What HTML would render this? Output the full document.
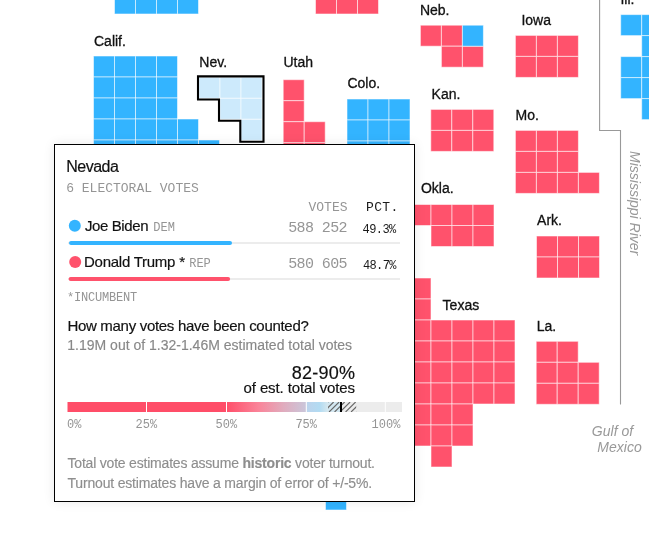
<!DOCTYPE html>
<html><head><meta charset="utf-8">
<style>
*{margin:0;padding:0;box-sizing:border-box}
html,body{width:649px;height:536px;overflow:hidden;background:#fff}
body{position:relative;font-family:"Liberation Sans",sans-serif;color:#1a1a1a}
.map{position:absolute;left:0;top:0;will-change:transform}
.lbl text{font-family:"Liberation Sans",sans-serif;font-size:14px;fill:#111;stroke:#111;stroke-width:0.3px}
.geo text{font-family:"Liberation Sans",sans-serif;font-style:italic;font-size:14px;fill:#999}
.tip{position:absolute;left:54px;top:144px;width:361px;height:358px;background:#fff;border:1px solid #000;box-shadow:0 0 11px rgba(0,0,0,0.09)}
.t{position:absolute;white-space:nowrap;line-height:1}
.mono{font-family:"Liberation Mono",monospace}
.gray{color:#8c8c8c}
.dot{position:absolute;width:12px;height:12px;border-radius:50%}
.track{position:absolute;left:14px;width:332px;height:2px;background:#ececec}
.s14{font-family:"Liberation Sans",sans-serif;font-size:14px;fill:#111;stroke:#111;stroke-width:0.18px}
.s15{font-family:"Liberation Sans",sans-serif;font-size:15px;fill:#111;stroke:#111;stroke-width:0.18px}
.s16{font-family:"Liberation Sans",sans-serif;font-size:16px;fill:#111;stroke:#111;stroke-width:0.18px}
.s18{font-family:"Liberation Sans",sans-serif;font-size:18px;fill:#111;stroke:#111;stroke-width:0.18px}
.m11{font-family:"Liberation Mono",monospace;font-size:11px;fill:#1a1a1a}
.m12{font-family:"Liberation Mono",monospace;font-size:12px;fill:#1a1a1a}
.m13{font-family:"Liberation Mono",monospace;font-size:13px;fill:#1a1a1a}
.m15{font-family:"Liberation Mono",monospace;font-size:15px;fill:#1a1a1a}
text.g{fill:#959595;stroke:none}
text.gs{fill:#888;stroke:#888;stroke-width:0.15px}
text.g2{fill:#8e8e8e;stroke:#8e8e8e;stroke-width:0.15px}
</style></head><body>
<svg class="map" width="649" height="536" viewBox="0 0 649 536">
<g stroke="rgba(255,255,255,0.55)" stroke-width="1"><rect x="114.5" y="-7.0" width="21" height="21" fill="#33b4ff"/><rect x="135.5" y="-7.0" width="21" height="21" fill="#33b4ff"/><rect x="156.5" y="-7.0" width="21" height="21" fill="#33b4ff"/><rect x="177.5" y="-7.0" width="21" height="21" fill="#33b4ff"/><rect x="315.5" y="-7.0" width="21" height="21" fill="#ff526c"/><rect x="336.5" y="-7.0" width="21" height="21" fill="#ff526c"/><rect x="357.5" y="-7.0" width="21" height="21" fill="#ff526c"/><rect x="93.5" y="56.0" width="21" height="21" fill="#33b4ff"/><rect x="114.5" y="56.0" width="21" height="21" fill="#33b4ff"/><rect x="135.5" y="56.0" width="21" height="21" fill="#33b4ff"/><rect x="156.5" y="56.0" width="21" height="21" fill="#33b4ff"/><rect x="93.5" y="77.0" width="21" height="21" fill="#33b4ff"/><rect x="114.5" y="77.0" width="21" height="21" fill="#33b4ff"/><rect x="135.5" y="77.0" width="21" height="21" fill="#33b4ff"/><rect x="156.5" y="77.0" width="21" height="21" fill="#33b4ff"/><rect x="93.5" y="98.0" width="21" height="21" fill="#33b4ff"/><rect x="114.5" y="98.0" width="21" height="21" fill="#33b4ff"/><rect x="135.5" y="98.0" width="21" height="21" fill="#33b4ff"/><rect x="156.5" y="98.0" width="21" height="21" fill="#33b4ff"/><rect x="93.5" y="119.0" width="21" height="21" fill="#33b4ff"/><rect x="114.5" y="119.0" width="21" height="21" fill="#33b4ff"/><rect x="135.5" y="119.0" width="21" height="21" fill="#33b4ff"/><rect x="156.5" y="119.0" width="21" height="21" fill="#33b4ff"/><rect x="177.5" y="119.0" width="21" height="21" fill="#33b4ff"/><rect x="93.5" y="140.0" width="21" height="21" fill="#33b4ff"/><rect x="114.5" y="140.0" width="21" height="21" fill="#33b4ff"/><rect x="135.5" y="140.0" width="21" height="21" fill="#33b4ff"/><rect x="156.5" y="140.0" width="21" height="21" fill="#33b4ff"/><rect x="177.5" y="140.0" width="21" height="21" fill="#33b4ff"/><rect x="198.5" y="140.0" width="21" height="21" fill="#33b4ff"/><rect x="93.5" y="161.0" width="21" height="21" fill="#33b4ff"/><rect x="114.5" y="161.0" width="21" height="21" fill="#33b4ff"/><rect x="135.5" y="161.0" width="21" height="21" fill="#33b4ff"/><rect x="156.5" y="161.0" width="21" height="21" fill="#33b4ff"/><rect x="177.5" y="161.0" width="21" height="21" fill="#33b4ff"/><rect x="198.5" y="161.0" width="21" height="21" fill="#33b4ff"/><rect x="199.0" y="77.3" width="21" height="21" fill="#cdeafc"/><rect x="220.0" y="77.3" width="21" height="21" fill="#cdeafc"/><rect x="241.0" y="77.3" width="21" height="21" fill="#cdeafc"/><rect x="220.0" y="98.3" width="21" height="21" fill="#cdeafc"/><rect x="241.0" y="98.3" width="21" height="21" fill="#cdeafc"/><rect x="241.0" y="119.3" width="21" height="21" fill="#cdeafc"/><rect x="283.2" y="79.7" width="21" height="21" fill="#ff526c"/><rect x="283.2" y="100.7" width="21" height="21" fill="#ff526c"/><rect x="283.2" y="121.7" width="21" height="21" fill="#ff526c"/><rect x="304.2" y="121.7" width="21" height="21" fill="#ff526c"/><rect x="283.2" y="142.7" width="21" height="21" fill="#ff526c"/><rect x="304.2" y="142.7" width="21" height="21" fill="#ff526c"/><rect x="347.0" y="99.0" width="21" height="21" fill="#33b4ff"/><rect x="368.0" y="99.0" width="21" height="21" fill="#33b4ff"/><rect x="389.0" y="99.0" width="21" height="21" fill="#33b4ff"/><rect x="347.0" y="120.0" width="21" height="21" fill="#33b4ff"/><rect x="368.0" y="120.0" width="21" height="21" fill="#33b4ff"/><rect x="389.0" y="120.0" width="21" height="21" fill="#33b4ff"/><rect x="347.0" y="141.0" width="21" height="21" fill="#33b4ff"/><rect x="368.0" y="141.0" width="21" height="21" fill="#33b4ff"/><rect x="389.0" y="141.0" width="21" height="21" fill="#33b4ff"/><rect x="420.4" y="25.2" width="21" height="21" fill="#ff526c"/><rect x="441.4" y="25.2" width="21" height="21" fill="#ff526c"/><rect x="441.4" y="46.2" width="21" height="21" fill="#ff526c"/><rect x="462.4" y="46.2" width="21" height="21" fill="#ff526c"/><rect x="462.4" y="25.2" width="21" height="21" fill="#33b4ff"/><rect x="515.4" y="35.4" width="21" height="21" fill="#ff526c"/><rect x="536.4" y="35.4" width="21" height="21" fill="#ff526c"/><rect x="557.4" y="35.4" width="21" height="21" fill="#ff526c"/><rect x="515.4" y="56.4" width="21" height="21" fill="#ff526c"/><rect x="536.4" y="56.4" width="21" height="21" fill="#ff526c"/><rect x="557.4" y="56.4" width="21" height="21" fill="#ff526c"/><rect x="620.7" y="14.6" width="21" height="21" fill="#33b4ff"/><rect x="641.7" y="14.6" width="21" height="21" fill="#33b4ff"/><rect x="641.7" y="35.6" width="21" height="21" fill="#33b4ff"/><rect x="620.7" y="56.6" width="21" height="21" fill="#33b4ff"/><rect x="641.7" y="56.6" width="21" height="21" fill="#33b4ff"/><rect x="620.7" y="77.6" width="21" height="21" fill="#33b4ff"/><rect x="641.7" y="77.6" width="21" height="21" fill="#33b4ff"/><rect x="641.7" y="98.6" width="21" height="21" fill="#33b4ff"/><rect x="430.8" y="109.4" width="21" height="21" fill="#ff526c"/><rect x="451.8" y="109.4" width="21" height="21" fill="#ff526c"/><rect x="472.8" y="109.4" width="21" height="21" fill="#ff526c"/><rect x="430.8" y="130.4" width="21" height="21" fill="#ff526c"/><rect x="451.8" y="130.4" width="21" height="21" fill="#ff526c"/><rect x="472.8" y="130.4" width="21" height="21" fill="#ff526c"/><rect x="515.4" y="130.4" width="21" height="21" fill="#ff526c"/><rect x="536.4" y="130.4" width="21" height="21" fill="#ff526c"/><rect x="557.4" y="130.4" width="21" height="21" fill="#ff526c"/><rect x="515.4" y="151.4" width="21" height="21" fill="#ff526c"/><rect x="536.4" y="151.4" width="21" height="21" fill="#ff526c"/><rect x="557.4" y="151.4" width="21" height="21" fill="#ff526c"/><rect x="515.4" y="172.4" width="21" height="21" fill="#ff526c"/><rect x="536.4" y="172.4" width="21" height="21" fill="#ff526c"/><rect x="557.4" y="172.4" width="21" height="21" fill="#ff526c"/><rect x="578.4" y="172.4" width="21" height="21" fill="#ff526c"/><rect x="389.0" y="204.5" width="21" height="21" fill="#ff526c"/><rect x="410.0" y="204.5" width="21" height="21" fill="#ff526c"/><rect x="431.0" y="204.5" width="21" height="21" fill="#ff526c"/><rect x="452.0" y="204.5" width="21" height="21" fill="#ff526c"/><rect x="473.0" y="204.5" width="21" height="21" fill="#ff526c"/><rect x="431.0" y="225.5" width="21" height="21" fill="#ff526c"/><rect x="452.0" y="225.5" width="21" height="21" fill="#ff526c"/><rect x="473.0" y="225.5" width="21" height="21" fill="#ff526c"/><rect x="536.5" y="236.0" width="21" height="21" fill="#ff526c"/><rect x="557.5" y="236.0" width="21" height="21" fill="#ff526c"/><rect x="578.5" y="236.0" width="21" height="21" fill="#ff526c"/><rect x="536.5" y="257.0" width="21" height="21" fill="#ff526c"/><rect x="557.5" y="257.0" width="21" height="21" fill="#ff526c"/><rect x="578.5" y="257.0" width="21" height="21" fill="#ff526c"/><rect x="410.0" y="278.0" width="21" height="21" fill="#ff526c"/><rect x="410.0" y="299.0" width="21" height="21" fill="#ff526c"/><rect x="410.0" y="320.0" width="21" height="21" fill="#ff526c"/><rect x="431.0" y="320.0" width="21" height="21" fill="#ff526c"/><rect x="452.0" y="320.0" width="21" height="21" fill="#ff526c"/><rect x="473.0" y="320.0" width="21" height="21" fill="#ff526c"/><rect x="494.0" y="320.0" width="21" height="21" fill="#ff526c"/><rect x="410.0" y="341.0" width="21" height="21" fill="#ff526c"/><rect x="431.0" y="341.0" width="21" height="21" fill="#ff526c"/><rect x="452.0" y="341.0" width="21" height="21" fill="#ff526c"/><rect x="473.0" y="341.0" width="21" height="21" fill="#ff526c"/><rect x="494.0" y="341.0" width="21" height="21" fill="#ff526c"/><rect x="410.0" y="362.0" width="21" height="21" fill="#ff526c"/><rect x="431.0" y="362.0" width="21" height="21" fill="#ff526c"/><rect x="452.0" y="362.0" width="21" height="21" fill="#ff526c"/><rect x="473.0" y="362.0" width="21" height="21" fill="#ff526c"/><rect x="494.0" y="362.0" width="21" height="21" fill="#ff526c"/><rect x="410.0" y="383.0" width="21" height="21" fill="#ff526c"/><rect x="431.0" y="383.0" width="21" height="21" fill="#ff526c"/><rect x="452.0" y="383.0" width="21" height="21" fill="#ff526c"/><rect x="473.0" y="383.0" width="21" height="21" fill="#ff526c"/><rect x="494.0" y="383.0" width="21" height="21" fill="#ff526c"/><rect x="410.0" y="404.0" width="21" height="21" fill="#ff526c"/><rect x="431.0" y="404.0" width="21" height="21" fill="#ff526c"/><rect x="452.0" y="404.0" width="21" height="21" fill="#ff526c"/><rect x="410.0" y="425.0" width="21" height="21" fill="#ff526c"/><rect x="431.0" y="425.0" width="21" height="21" fill="#ff526c"/><rect x="452.0" y="425.0" width="21" height="21" fill="#ff526c"/><rect x="431.0" y="446.0" width="21" height="21" fill="#ff526c"/><rect x="536.2" y="341.3" width="21" height="21" fill="#ff526c"/><rect x="557.2" y="341.3" width="21" height="21" fill="#ff526c"/><rect x="536.2" y="362.3" width="21" height="21" fill="#ff526c"/><rect x="557.2" y="362.3" width="21" height="21" fill="#ff526c"/><rect x="578.2" y="362.3" width="21" height="21" fill="#ff526c"/><rect x="536.2" y="383.3" width="21" height="21" fill="#ff526c"/><rect x="557.2" y="383.3" width="21" height="21" fill="#ff526c"/><rect x="578.2" y="383.3" width="21" height="21" fill="#ff526c"/><rect x="325.5" y="489.0" width="21" height="21" fill="#33b4ff"/></g>
<path d="M198,76.4 H263.5 V141.7 H240.3 V120.8 H219 V99.5 H198 Z" fill="none" stroke="#000" stroke-width="2.1" stroke-linejoin="miter"/>
<path d="M599.6,0 V130.5 H620.5 V404.6" fill="none" stroke="#999" stroke-width="1.1"/>
<g class="lbl"><text x="94" y="45.9">Calif.</text><text x="199.3" y="67.2">Nev.</text><text x="283.4" y="67.2">Utah</text><text x="347.4" y="87.8">Colo.</text><text x="419.9" y="15">Neb.</text><text x="521.4" y="24.8">Iowa</text><text x="620.4" y="3.7">Ill.</text><text x="431.6" y="99">Kan.</text><text x="515.6" y="120">Mo.</text><text x="420.9" y="192.8">Okla.</text><text x="537.1" y="224.8">Ark.</text><text x="442.6" y="310.3">Texas</text><text x="536.8" y="331">La.</text></g>
<g class="geo">
<text x="633.1" y="435.7" text-anchor="end">Gulf of</text>
<text x="641.7" y="451.7" text-anchor="end">Mexico</text>
<text transform="translate(630,151) rotate(90)">Mississippi River</text>
</g>
</svg>
<div class="tip"></div>
<svg class="map" width="649" height="536" viewBox="0 0 649 536"><text x="66.2" y="171.9" class="s16" text-anchor="start" letter-spacing="-0.5">Nevada</text><text x="66.2" y="191.8" class="m13 g" text-anchor="start" >6 ELECTORAL VOTES</text><text x="347.5" y="211" class="m13 g" text-anchor="end" >VOTES</text><text x="398.5" y="211" class="m13" text-anchor="end" letter-spacing="0.3">PCT.</text><rect x="68" y="242" width="332" height="2" fill="#ececec"/><rect x="69" y="241" width="163" height="4" rx="2" fill="#33b4ff"/><circle cx="74.8" cy="225.8" r="6" fill="#33b4ff"/><text x="85" y="231" class="s15" text-anchor="start" letter-spacing="-0.4">Joe Biden</text><text x="153.3" y="231" class="m12 g" text-anchor="start" >DEM</text><text x="347" y="232.2" class="m15 g" text-anchor="end" letter-spacing="-0.6">588 252</text><text x="395.6" y="233" class="m12" text-anchor="end" letter-spacing="-0.6">49.3%</text><rect x="68" y="278" width="332" height="2" fill="#ececec"/><rect x="68.6" y="277" width="161.5" height="4" rx="2" fill="#ff526c"/><circle cx="75.2" cy="262" r="6" fill="#ff526c"/><text x="84.0" y="267.2" class="s15" text-anchor="start" letter-spacing="-0.25">Donald Trump *</text><text x="189.2" y="267.2" class="m12 g" text-anchor="start" >REP</text><text x="347" y="268.4" class="m15 g" text-anchor="end" letter-spacing="-0.6">580 605</text><text x="395.9" y="268.8" class="m12" text-anchor="end" letter-spacing="-0.6">48.7%</text><text x="67" y="301.2" class="m12 g" text-anchor="start" letter-spacing="-0.2">*INCUMBENT</text><text x="67.4" y="331.2" class="s15" text-anchor="start" letter-spacing="-0.3">How many votes have been counted?</text><text x="67.3" y="349.7" class="s14 gs" text-anchor="start" >1.19M out of 1.32-1.46M estimated total votes</text><text x="355.3" y="378.6" class="s18" text-anchor="end" letter-spacing="0.25">82-90%</text><text x="355" y="393.3" class="s15" text-anchor="end" letter-spacing="-0.1">of est. total votes</text><defs>
<linearGradient id="gr1" x1="0" x2="1"><stop offset="0" stop-color="#ff4f6a"/><stop offset="0.4" stop-color="#fa8499"/><stop offset="0.72" stop-color="#e0acbe"/><stop offset="1" stop-color="#cac6da"/></linearGradient>
<linearGradient id="gr2" x1="0" x2="1"><stop offset="0" stop-color="#bcd3ec"/><stop offset="0.6" stop-color="#b2dbf2"/><stop offset="1" stop-color="#d6e8ef"/></linearGradient>
<linearGradient id="gr3" x1="0" x2="1"><stop offset="0" stop-color="#d6e8ef"/><stop offset="0.5" stop-color="#e6eaec"/><stop offset="1" stop-color="#ececec"/></linearGradient>
<pattern id="hatch" patternUnits="userSpaceOnUse" width="7" height="7" patternTransform="rotate(45)"><rect x="0" y="0" width="1.6" height="7" fill="#555"/></pattern>
</defs><rect x="67.5" y="402" width="78.5" height="10" fill="#ff4d68"/><rect x="147" y="402" width="79" height="10" fill="#ff4d68"/><rect x="227" y="402" width="78.8" height="10" fill="url(#gr1)"/><rect x="306.8" y="402" width="21.2" height="10" fill="url(#gr2)"/><rect x="328" y="402" width="13" height="10" fill="#d3e7f1"/><rect x="341" y="402" width="15" height="10" fill="#ececec"/><rect x="356" y="402" width="28.8" height="10" fill="#ececec"/><rect x="385.8" y="402" width="16.2" height="10" fill="#ececec"/><clipPath id="hc"><rect x="328" y="402" width="28.2" height="10"/></clipPath><g clip-path="url(#hc)" stroke="#666" stroke-width="1.1"><line x1="318.10" y1="412" x2="328.10" y2="402"/><line x1="323.60" y1="412" x2="333.60" y2="402"/><line x1="329.10" y1="412" x2="339.10" y2="402"/><line x1="334.60" y1="412" x2="344.60" y2="402"/><line x1="340.10" y1="412" x2="350.10" y2="402"/><line x1="345.60" y1="412" x2="355.60" y2="402"/><line x1="351.10" y1="412" x2="361.10" y2="402"/><line x1="356.60" y1="412" x2="366.60" y2="402"/></g><rect x="340" y="402" width="2" height="10" fill="#000"/><text x="67" y="427.7" class="m12 g" text-anchor="start" >0%</text><text x="146.3" y="427.7" class="m12 g" text-anchor="middle" >25%</text><text x="226.3" y="427.7" class="m12 g" text-anchor="middle" >50%</text><text x="306.2" y="427.7" class="m12 g" text-anchor="middle" >75%</text><text x="386" y="427.7" class="m12 g" text-anchor="middle" >100%</text><text x="67.5" y="468.2" class="s14 g2" text-anchor="start" letter-spacing="-0.2">Total vote estimates assume <tspan font-weight="bold">historic</tspan> voter turnout.</text><text x="67.5" y="488.2" class="s14 g2" text-anchor="start" letter-spacing="-0.18">Turnout estimates have a margin of error of +/-5%.</text></svg>
</body></html>
